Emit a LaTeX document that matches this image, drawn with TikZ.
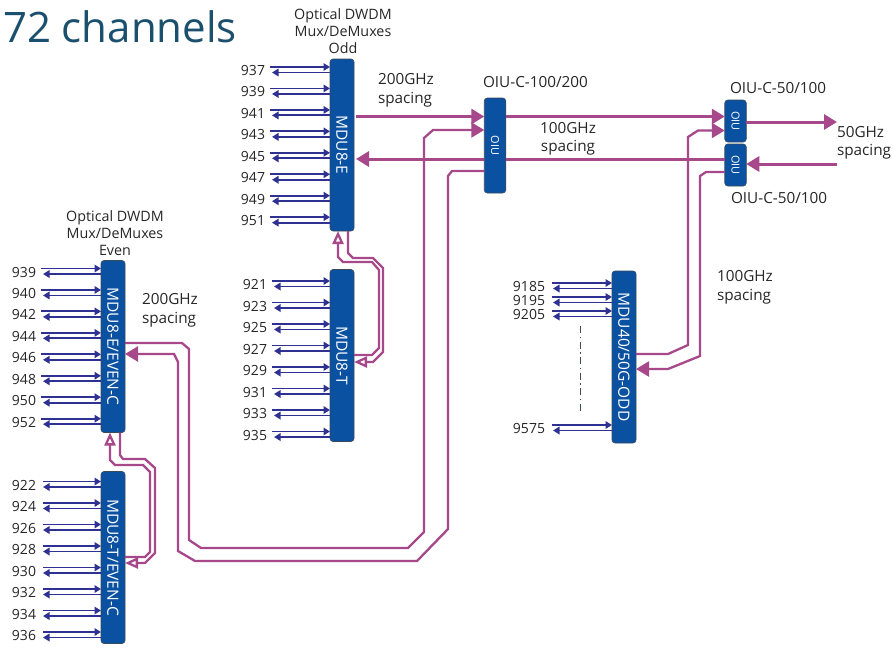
\documentclass[tikz,border=0pt]{standalone}
\usepackage{fontspec}
\setmainfont{Open Sans}
\usetikzlibrary{arrows.meta,calc}
\definecolor{DwdmBlue}{HTML}{0B51A2}
\definecolor{DwdmEdge}{HTML}{3A4A5A}
\definecolor{DwdmPlum}{HTML}{A6488A}
\definecolor{DwdmInk}{HTML}{2E3192}
\definecolor{DwdmTitle}{HTML}{1B4F6E}
\definecolor{DwdmText}{HTML}{262626}
\tikzset{
  every node/.style={inner sep=0pt, outer sep=0pt, text=DwdmText, font=\fontsize{15.3}{18.5}\selectfont},
  mdubox/.style={draw=DwdmEdge, line width=0.6pt, fill=DwdmBlue, rounded corners=3pt, minimum width=24pt, minimum height=172pt, text=white, font=\fontsize{15.5}{16}\selectfont},
  oiubox/.style={draw=DwdmEdge, line width=0.6pt, fill=DwdmBlue, rounded corners=3pt, minimum width=21.5pt, text=white, font=\fontsize{11}{11}\selectfont},
  chanlabel/.style={anchor=east, font=\fontsize{14}{15}\selectfont},
  chanin/.style={draw=DwdmInk, line width=1.9pt, -{Triangle[length=6.5pt,width=7.5pt]}},
  mainlink/.style={draw=DwdmPlum, line width=3pt},
  mainarrow/.style={mainlink, -{Triangle[length=13pt,width=15pt]}},
  routelink/.style={draw=DwdmPlum, line width=2.3pt},
  routearrow/.style={routelink, -{Triangle[length=13pt,width=15pt]}},
  loopback/.style={routelink, -{Triangle[open,length=13pt,width=11pt,line width=2.3pt]}},
  spacetext/.style={align=left, anchor=west},
  headtext/.style={align=center, font=\fontsize{14.3}{17}\selectfont}
}
\begin{document}
\begin{tikzpicture}[x=1pt, y=-1pt]
  \useasboundingbox (0,0) rectangle (893,646);

  \node[anchor=west, text=DwdmTitle, font=\fontsize{42}{50}\selectfont] (title) at (3,27) {72 channels};

  % mux / demux blocks
  \node[mdubox] (mdue) at (342,145) {\rotatebox{-90}{MDU8-E}};
  \node[mdubox] (mdut) at (342,355.5) {\rotatebox{-90}{MDU8-T}};
  \node[mdubox] (evene) at (113,346.5) {\rotatebox{-90}{MDU8-E/EVEN-C}};
  \node[mdubox] (event) at (113,557.5) {\rotatebox{-90}{MDU8-T/EVEN-C}};
  \node[mdubox] (mduodd) at (624,357) {\rotatebox{-90}{MDU40/50G-ODD}};

  \node[oiubox, minimum height=95pt] (oiumain) at (495,145.5) {\rotatebox{-90}{OIU}};
  \node[oiubox, minimum height=42pt] (oiuup) at (735.5,121) {\rotatebox{-90}{OIU}};
  \node[oiubox, minimum height=42pt] (oiudown) at (735.5,165) {\rotatebox{-90}{OIU}};

  % channel labels and their pairs
  \foreach \ch [count=\i from 0, evaluate=\i as \yy using 70.5+21.45*\i] in {937,939,941,943,945,947,949,951} {
    \node[chanlabel] (c\ch) at (265,\yy) {\ch};
    \draw[chanin] ($(c\ch.east)+(5,-3.5)$) -- ($(c\ch.east -| mdue.west)+(0,-3.5)$);
    \draw[chanin] ($(c\ch.east -| mdue.west)+(0,2)$) -- ($(c\ch.east)+(7,2)$);
  }
  \foreach \ch [count=\i from 0, evaluate=\i as \yy using 284.5+21.5*\i] in {921,923,925,927,929,931,933,935} {
    \node[chanlabel] (c\ch) at (267,\yy) {\ch};
    \draw[chanin] ($(c\ch.east)+(5,-3.5)$) -- ($(c\ch.east -| mdut.west)+(0,-3.5)$);
    \draw[chanin] ($(c\ch.east -| mdut.west)+(0,2)$) -- ($(c\ch.east)+(7,2)$);
  }
  \foreach \ch [count=\i from 0, evaluate=\i as \yy using 272+21.45*\i] in {939,940,942,944,946,948,950,952} {
    \node[chanlabel] (e\ch) at (36,\yy) {\ch};
    \draw[chanin] ($(e\ch.east)+(5,-3.5)$) -- ($(e\ch.east -| evene.west)+(0,-3.5)$);
    \draw[chanin] ($(e\ch.east -| evene.west)+(0,2)$) -- ($(e\ch.east)+(7,2)$);
  }
  \foreach \ch [count=\i from 0, evaluate=\i as \yy using 485+21.5*\i] in {922,924,926,928,930,932,934,936} {
    \node[chanlabel] (c\ch) at (36,\yy) {\ch};
    \draw[chanin] ($(c\ch.east)+(7,-3.5)$) -- ($(c\ch.east -| event.west)+(0,-3.5)$);
    \draw[chanin] ($(c\ch.east -| event.west)+(0,2)$) -- ($(c\ch.east)+(7,2)$);
  }
  \foreach \ch/\yy in {9185/286,9195/300,9205/314,9575/428} {
    \node[chanlabel] (c\ch) at (545,\yy) {\ch};
    \draw[chanin] ($(c\ch.east)+(7,-3)$) -- ($(c\ch.east -| mduodd.west)+(0,-3)$);
    \draw[chanin] ($(c\ch.east -| mduodd.west)+(0,2.5)$) -- ($(c\ch.east)+(8,2.5)$);
  }
  \coordinate (dotstop) at (580.5,326);
  \coordinate (dotsend) at (580.5,413);
  \draw[draw=DwdmEdge, line width=1pt, dash pattern=on 7pt off 3.5pt on 1.5pt off 3.5pt] (dotstop) -- (dotsend);

  % texts
  \node[headtext] (oddhead) at (343,31) {Optical DWDM\\Mux/DeMuxes\\Odd};
  \node[headtext] (evenhead) at (115,233) {Optical DWDM\\Mux/DeMuxes\\Even};
  \node[spacetext] (sp200a) at (378,90.5) {200GHz\\spacing};
  \node[spacetext] (sp200b) at (142,310.5) {200GHz\\spacing};
  \node[align=center] (sp100a) at (568,139) {100GHz\\spacing};
  \node[spacetext] (sp100b) at (717,287.5) {100GHz\\spacing};
  \node[spacetext] (sp50) at (837,143) {50GHz\\spacing};
  \node[anchor=west] (oiumaintext) at (483,82) {OIU-C-100/200};
  \node[anchor=west] (oiuuptext) at (730,88) {OIU-C-50/100};
  \node[anchor=west] (oiudowntext) at (731,198) {OIU-C-50/100};
  \coordinate (outend) at (837,122);
  \coordinate (inend) at (837,164);

  % main links
  \draw[mainarrow] ($(mdue.east |- 0,116.5)+(2,0)$) -- (oiumain.west |- 0,116.5);
  \draw[mainarrow] (oiumain.west |- 0,159) -- ($(mdue.east |- 0,159)+(2,0)$);
  \draw[mainarrow] (oiumain.east |- 0,116.5) -- (oiuup.west |- 0,116.5);
  \draw[mainlink] (oiudown.west |- 0,159) -- (oiumain.east |- 0,159);
  \draw[mainarrow] (oiuup.east |- outend) -- (outend);
  \draw[mainarrow] (inend) -- (oiudown.east |- inend);

  % long routes
  \draw[routearrow] (evene.east |- 0,343) -- (182,343) -- (189,349) -- (189,540) -- (201,548) -- (408,548) -- (424,532) -- (424,138) -- (433,130) -- (oiumain.west |- 0,130);
  \draw[routearrow] (oiumain.west |- 0,171) -- (452,171) -- (448,176) -- (448,529) -- (417,561) -- (195,561) -- (178,551) -- (178,362) -- (174,354) -- (evene.east |- 0,354);
  \draw[routearrow] (mduodd.east |- 0,354) -- (668,354) -- (688,345) -- (688,137) -- (698,130.5) -- (oiuup.west |- 0,130.5);
  \draw[routearrow] (oiudown.west |- 0,172) -- (706,172) -- (700,176) -- (700,356) -- (668,369) -- (mduodd.east |- 0,369);

  % loop back links
  \draw[loopback] ($(mdue.south)+(6,0)$) -- (348,253) -- (353,258) -- (373,258) -- (383,268) -- (383,352) -- (373,362) -- (mdut.east |- 0,362);
  \draw[loopback] (mdut.east |- 0,355) -- (372,355) -- (379,348) -- (379,270) -- (372,262) -- (343,262) -- (338,257) -- ($(mdue.south)+(-4,0)$);
  \draw[loopback] ($(evene.south)+(7,0)$) -- (120,455) -- (123,459) -- (145,459) -- (155,468) -- (155,553) -- (145,563) -- (event.east |- 0,563);
  \draw[loopback] (event.east |- 0,557) -- (145,557) -- (150,552) -- (150,472) -- (143,465) -- (115,465) -- (110,460) -- ($(evene.south)+(-3,0)$);
\end{tikzpicture}
\end{document}
